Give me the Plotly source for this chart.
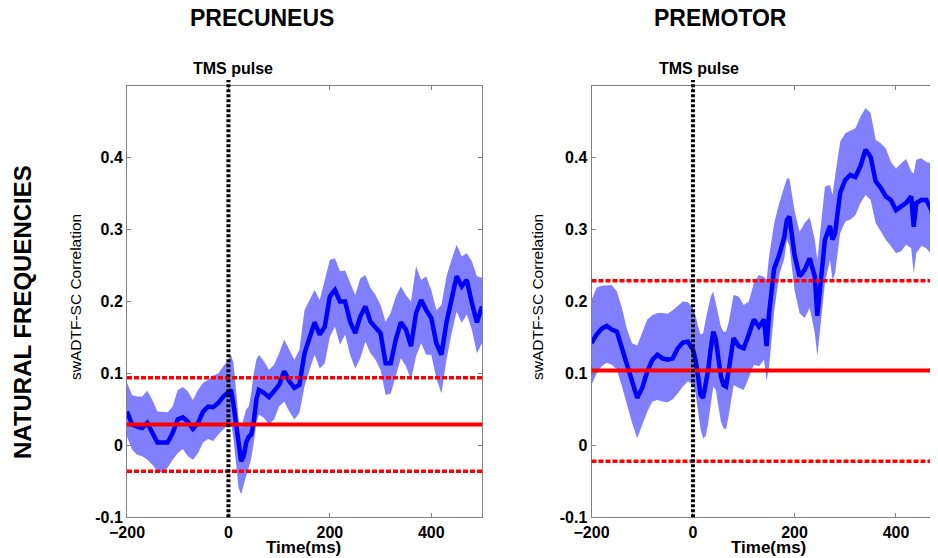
import plotly.graph_objects as go

# ---------------- data ----------------
t_pre = [-200, -190, -180, -170, -160, -150, -140, -130, -120, -110, -100, -90, -80, -70, -60,
         -50, -40, -30, -20, -10, 0, 5, 10, 15, 20, 25, 30, 35, 40, 45, 50, 55, 60, 70, 80, 90,
         100, 110, 120, 130, 140, 150, 160, 170, 180, 190, 200, 210, 220, 230, 240, 250, 260,
         270, 280, 290, 300, 310, 320, 330, 340, 350, 360, 370, 380, 390, 400, 410, 420, 430,
         440, 450, 460, 470, 480, 490, 500]
mean_pre = [0.047, 0.029, 0.026, 0.024, 0.031, 0.017, 0.004, 0.004, 0.004, 0.017, 0.036, 0.039,
            0.033, 0.023, 0.031, 0.047, 0.054, 0.053, 0.059, 0.068, 0.074, 0.077, 0.057, 0.029,
            -0.006, -0.022, -0.015, 0.004, 0.012, 0.015, 0.033, 0.063, 0.077, 0.073, 0.067,
            0.076, 0.084, 0.103, 0.089, 0.080, 0.084, 0.128, 0.151, 0.171, 0.154, 0.165, 0.207,
            0.216, 0.200, 0.200, 0.172, 0.156, 0.179, 0.193, 0.172, 0.165, 0.156, 0.114, 0.114,
            0.147, 0.171, 0.161, 0.138, 0.184, 0.202, 0.188, 0.177, 0.142, 0.126, 0.171, 0.207,
            0.235, 0.221, 0.230, 0.198, 0.171, 0.193]
upper_pre = [0.087, 0.070, 0.068, 0.068, 0.076, 0.063, 0.047, 0.047, 0.046, 0.054, 0.077, 0.081,
             0.075, 0.063, 0.077, 0.087, 0.091, 0.097, 0.100, 0.110, 0.119, 0.126, 0.114, 0.077,
             0.036, 0.024, 0.036, 0.050, 0.054, 0.073, 0.100, 0.119, 0.126, 0.117, 0.105, 0.112,
             0.128, 0.147, 0.133, 0.119, 0.133, 0.188, 0.202, 0.216, 0.202, 0.230, 0.258, 0.260,
             0.242, 0.243, 0.226, 0.209, 0.232, 0.237, 0.219, 0.209, 0.195, 0.172, 0.184, 0.207,
             0.221, 0.209, 0.200, 0.249, 0.230, 0.235, 0.216, 0.188, 0.195, 0.235, 0.258, 0.279,
             0.263, 0.267, 0.256, 0.235, 0.233]
lower_pre = [0.012, -0.006, -0.013, -0.015, -0.020, -0.027, -0.036, -0.038, -0.031, -0.020,
             -0.011, -0.005, -0.015, -0.020, -0.011, 0.004, 0.009, 0.006, 0.015, 0.022, 0.029,
             0.033, 0.009, -0.025, -0.059, -0.068, -0.057, -0.043, -0.031, -0.018, 0.004, 0.031,
             0.043, 0.038, 0.029, 0.036, 0.054, 0.061, 0.047, 0.036, 0.045, 0.082, 0.105, 0.126,
             0.107, 0.114, 0.151, 0.165, 0.140, 0.154, 0.126, 0.107, 0.121, 0.144, 0.128, 0.119,
             0.105, 0.070, 0.072, 0.096, 0.121, 0.110, 0.091, 0.124, 0.142, 0.126, 0.126, 0.093,
             0.072, 0.119, 0.156, 0.186, 0.170, 0.182, 0.161, 0.128, 0.142]
thr_pre_mean = 0.029
thr_pre_bounds = [0.094, -0.036]

t_pm = [-200, -190, -180, -170, -160, -150, -140, -130, -120, -110, -100, -90, -80, -70, -60,
        -50, -40, -30, -20, -10, 0, 5, 10, 15, 20, 25, 30, 35, 40, 45, 50, 55, 60, 65, 70, 80,
        90, 100, 110, 120, 130, 140, 145, 150, 160, 170, 180, 185, 190, 200, 210, 220, 230, 240,
        245, 250, 260, 270, 275, 280, 290, 300, 310, 320, 330, 340, 350, 360, 370, 380, 390,
        400, 410, 420, 430, 435, 440, 450, 460, 470, 475, 483]
mean_pm = [0.142, 0.154, 0.162, 0.166, 0.161, 0.158, 0.135, 0.112, 0.084, 0.066, 0.080, 0.103,
           0.119, 0.126, 0.121, 0.119, 0.121, 0.135, 0.143, 0.144, 0.133, 0.119, 0.096, 0.070,
           0.066, 0.082, 0.105, 0.135, 0.158, 0.147, 0.119, 0.096, 0.084, 0.082, 0.103, 0.149,
           0.138, 0.135, 0.154, 0.175, 0.165, 0.175, 0.138, 0.184, 0.246, 0.265, 0.290, 0.313,
           0.318, 0.265, 0.235, 0.244, 0.260, 0.235, 0.180, 0.215, 0.286, 0.305, 0.286, 0.295,
           0.351, 0.369, 0.376, 0.373, 0.388, 0.411, 0.401, 0.367, 0.358, 0.346, 0.341, 0.327,
           0.332, 0.337, 0.346, 0.304, 0.337, 0.341, 0.341, 0.327, 0.302, 0.300]
upper_pm = [0.202, 0.219, 0.222, 0.223, 0.223, 0.214, 0.191, 0.161, 0.142, 0.139, 0.158, 0.175,
            0.181, 0.184, 0.184, 0.183, 0.188, 0.194, 0.200, 0.199, 0.191, 0.181, 0.165, 0.154,
            0.156, 0.175, 0.193, 0.207, 0.214, 0.198, 0.179, 0.165, 0.158, 0.158, 0.170, 0.209,
            0.207, 0.195, 0.200, 0.226, 0.237, 0.234, 0.230, 0.263, 0.309, 0.337, 0.360, 0.371,
            0.371, 0.327, 0.297, 0.309, 0.317, 0.286, 0.258, 0.295, 0.360, 0.362, 0.348, 0.374,
            0.422, 0.434, 0.437, 0.441, 0.457, 0.469, 0.462, 0.425, 0.420, 0.413, 0.394, 0.385,
            0.392, 0.398, 0.381, 0.378, 0.397, 0.399, 0.394, 0.392, 0.378, 0.360]
lower_pm = [0.084, 0.100, 0.110, 0.115, 0.112, 0.105, 0.082, 0.056, 0.031, 0.010, 0.029, 0.047,
            0.061, 0.063, 0.061, 0.060, 0.064, 0.072, 0.082, 0.089, 0.084, 0.073, 0.047, 0.022,
            0.010, 0.013, 0.031, 0.056, 0.082, 0.077, 0.054, 0.033, 0.024, 0.022, 0.040, 0.084,
            0.080, 0.077, 0.094, 0.112, 0.110, 0.119, 0.090, 0.110, 0.186, 0.237, 0.260, 0.286,
            0.277, 0.216, 0.184, 0.177, 0.191, 0.156, 0.124, 0.156, 0.226, 0.258, 0.230, 0.239,
            0.295, 0.311, 0.314, 0.320, 0.337, 0.348, 0.341, 0.309, 0.297, 0.286, 0.277, 0.267,
            0.270, 0.279, 0.274, 0.239, 0.267, 0.277, 0.274, 0.265, 0.239, 0.244]
thr_pm_mean = 0.104
thr_pm_bounds = [0.229, -0.022]

tms_time = 0
x_ticks = [-200, 0, 200, 400]
y_ticks = [-0.1, 0, 0.1, 0.2, 0.3, 0.4]
y_ticktext = ["-0.1", "0", "0.1", "0.2", "0.3", "0.4"]
panel_titles = ["PRECUNEUS", "PREMOTOR"]
row_label = "NATURAL FREQUENCIES"
y_title = "swADTF-SC Correlation"
x_title = "Time(ms)"
pulse_label = "TMS pulse"

# ---------------- layout helpers ----------------
# The page body keeps an 8px margin, so the figure is drawn 8px in from the window edge.
OFF = 8
W, H = 938 - OFF, 558 - OFF
def px(x):
    return (x - OFF) / W
def py(y):
    return 1 - (y - OFF) / H

FONT = "Liberation Sans, Arial, sans-serif"
BAND = "rgb(128,128,255)"
LINE = "rgb(0,0,255)"
RED = "rgb(255,0,0)"
AX = "#808080"

fig = go.Figure()

panels = [
    dict(t=t_pre, m=mean_pre, u=upper_pre, l=lower_pre, thr=thr_pre_mean, bnd=thr_pre_bounds,
         xa="x", ya="y"),
    dict(t=t_pm, m=mean_pm, u=upper_pm, l=lower_pm, thr=thr_pm_mean, bnd=thr_pm_bounds,
         xa="x2", ya="y2"),
]

shapes = []
for p in panels:
    fig.add_trace(go.Scatter(x=p["t"], y=p["u"], mode="lines", line=dict(width=0, color=BAND),
                             xaxis=p["xa"], yaxis=p["ya"], showlegend=False, hoverinfo="skip"))
    fig.add_trace(go.Scatter(x=p["t"], y=p["l"], mode="lines", line=dict(width=0, color=BAND),
                             fill="tonexty", fillcolor=BAND,
                             xaxis=p["xa"], yaxis=p["ya"], showlegend=False, hoverinfo="skip"))
    fig.add_trace(go.Scatter(x=p["t"], y=p["m"], mode="lines", line=dict(width=4.5, color=LINE),
                             xaxis=p["xa"], yaxis=p["ya"], showlegend=False))
    dref = p["xa"] + " domain"
    shapes.append(dict(type="line", xref=dref, yref=p["ya"], x0=0, x1=1, y0=p["thr"], y1=p["thr"],
                       line=dict(color=RED, width=4), layer="above"))
    for b in p["bnd"]:
        shapes.append(dict(type="line", xref=dref, yref=p["ya"], x0=0, x1=1, y0=b, y1=b,
                           line=dict(color=RED, width=3.5, dash="5px,2px"), layer="above"))
    shapes.append(dict(type="line", xref=p["xa"], yref="paper", x0=tms_time, x1=tms_time,
                       y0=py(517.3), y1=py(80), line=dict(color="black", width=4, dash="3px,2px"),
                       layer="above"))

ydom = [py(517.3), py(85.7)]
axis_common = dict(showline=True, linecolor=AX, linewidth=1, mirror="ticks", ticks="inside",
                   ticklen=4, tickcolor=AX, showgrid=False, zeroline=False, automargin=False,
                   tickfont=dict(family=FONT, size=16, color="black", weight="bold"))

fig.update_layout(
    width=W, height=H, autosize=False,
    margin=dict(l=0, r=0, t=0, b=0, pad=0),
    paper_bgcolor="white", plot_bgcolor="white",
    xaxis=dict(domain=[px(127), px(482)], range=[-200, 500], tickvals=x_ticks,
               anchor="y", **axis_common),
    yaxis=dict(domain=ydom, range=[-0.1, 0.5], tickvals=y_ticks, ticktext=y_ticktext,
               anchor="x", **axis_common),
    xaxis2=dict(domain=[px(591.5), 1.0], range=[-200, 482.8], tickvals=x_ticks,
                anchor="y2", **axis_common),
    yaxis2=dict(domain=ydom, range=[-0.1, 0.5], tickvals=y_ticks, ticktext=y_ticktext,
                anchor="x2", **axis_common),
    shapes=shapes,
)

def ann(text, x, y, size, bold=True, angle=0):
    return dict(text=text, x=px(x), y=py(y), xref="paper", yref="paper", showarrow=False,
                xanchor="center", yanchor="middle", textangle=angle,
                font=dict(family=FONT, size=size, color="black",
                          weight="bold" if bold else "normal"))

fig.update_layout(annotations=[
    ann(panel_titles[0], 262, 18, 23),
    ann(panel_titles[1], 720, 18, 23),
    ann(pulse_label, 233, 68, 16),
    ann(pulse_label, 699, 68, 16),
    ann(x_title, 303, 547, 17),
    ann(x_title, 768, 547, 17),
    ann(y_title, 75, 297, 15.5, bold=False, angle=-90),
    ann(y_title, 537, 297, 15.5, bold=False, angle=-90),
    ann(row_label, 22, 312, 24, angle=-90),
])

fig.write_html("out.html")
